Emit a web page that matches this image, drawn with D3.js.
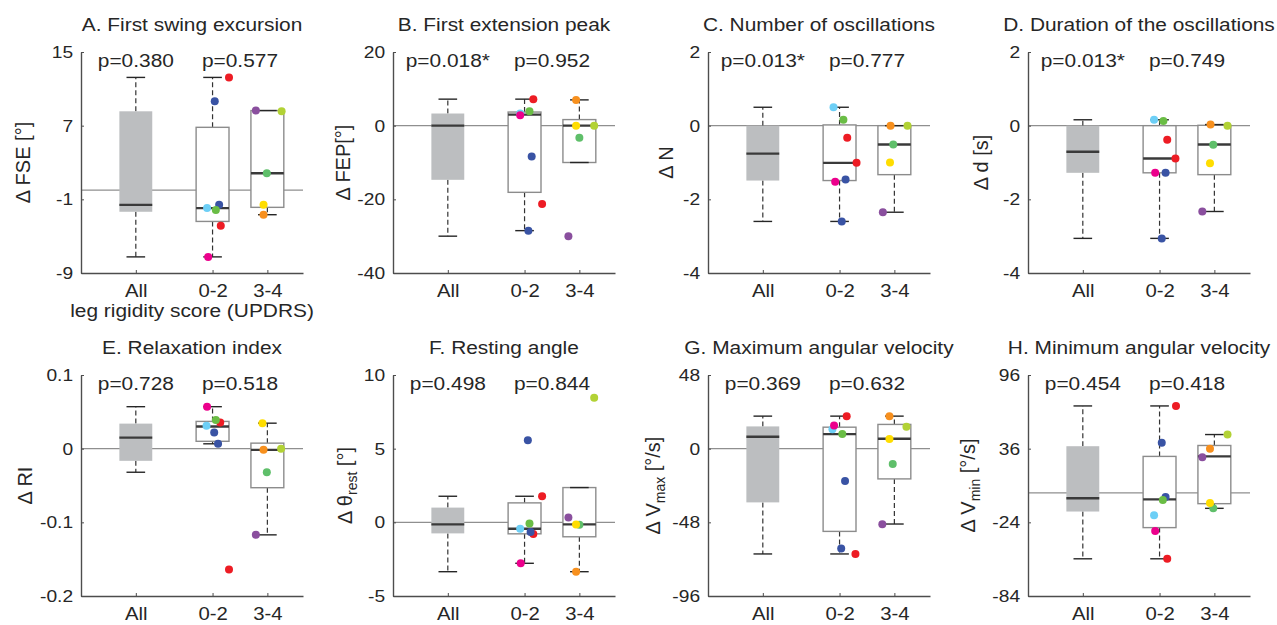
<!DOCTYPE html>
<html>
<head>
<meta charset="utf-8">
<style>
body { margin: 0; background: #fff; }
text { font-family: "Liberation Sans", Arial, sans-serif; fill: #262626; }
</style>
</head>
<body>

<svg id="chart" width="1277" height="625"></svg>

<script src="https://d3js.org/d3.v7.min.js"></script>
<script>

var categories = ["All", "0-2", "3-4"];
var titles = ["A. First swing excursion", "B. First extension peak", "C. Number of oscillations",
    "D. Duration of the oscillations", "E. Relaxation index", "F. Resting angle",
    "G. Maximum angular velocity", "H. Minimum angular velocity"];
var yLabels = ["Δ FSE [°]", "Δ FEP[°]", "Δ N", "Δ d [s]", "Δ RI", "Δ θ_{rest} [°]",
    "Δ V_{max} [°/s]", "Δ V_{min} [°/s]"];
var xLabel = "leg rigidity score (UPDRS)";
var yTicks = [[15, 7, -1, -9], [20, 0, -20, -40], [2, 0, -2, -4], [2, 0, -2, -4],
    [0.1, 0, -0.1, -0.2], [10, 5, 0, -5], [48, 0, -48, -96], [96, 36, -24, -84]];
var pAll = ["p=0.380", "p=0.018*", "p=0.013*", "p=0.013*", "p=0.728", "p=0.498", "p=0.369", "p=0.454"];
var pGroups = ["p=0.577", "p=0.952", "p=0.777", "p=0.749", "p=0.518", "p=0.844", "p=0.632", "p=0.418"];

// box stats: [lower whisker, q1, median, q3, upper whisker]
var boxAll = [[-7.25, -2.35, -1.6, 8.56, 12.24], [-30, -14.7, 0, 3.3, 7.2], [-2.6, -1.49, -0.76, 0, 0.5],
    [-3.06, -1.28, -0.71, 0, 0.16], [-0.032, -0.0165, 0.015, 0.034, 0.057], [-3.35, -0.75, -0.14, 1.0, 1.77],
    [-68.6, -35, 7.8, 14.5, 21.2], [-53.7, -15.2, -4.4, 38, 70.8]];
var boxLow = [[-7.25, -3.4, -1.95, 6.82, 12.24], [-28.5, -18.1, 3.0, 3.7, 7.2], [-2.6, -1.49, -1.01, 0.02, 0.5],
    [-3.06, -1.28, -0.89, 0, 0.16], [0.0066, 0.010, 0.030, 0.037, 0.057], [-2.78, -0.78, -0.44, 1.32, 1.77],
    [-68.6, -53.9, 9.5, 14, 21.2], [-53.7, -28.3, -5.3, 29.7, 70.8]];
var boxHigh = [[-2.67, -1.87, 1.84, 8.64, 8.64], [-10, -10, 0, 1.65, 7.0], [-2.35, -1.33, -0.51, 0, 0],
    [-2.33, -1.33, -0.51, 0.01, 0.03], [-0.117, -0.053, -0.0016, 0.0075, 0.0346], [-3.35, -0.98, -0.14, 2.36, 2.36],
    [-49.1, -19.7, 6.5, 15.8, 21.2], [-12.6, -8.8, 29.7, 38.6, 47.5]];

// subjects with score 0-2: red, red, blue, blue, cyan, green, pink
var colorsLow = ["#ed1c24", "#ed1c24", "#3953a4", "#3953a4", "#6dcff6", "#6abd45", "#ec008c"];
var dotsLow = [[12.24, -3.87, 9.65, -1.6, -1.95, -2.16, -7.25], [7.2, -21.3, -8.4, -28.5, 3.3, 3.9, 2.8],
    [-0.33, -1.01, -1.46, -2.6, 0.5, 0.16, -1.52], [-0.38, -0.89, -1.28, -3.06, 0.16, 0.13, -1.28],
    [0.0355, -0.164, 0.022, 0.0066, 0.031, 0.039, 0.057], [1.77, -0.8, 5.57, -0.66, -0.44, -0.08, -2.78],
    [21.2, -68.6, -21, -65.1, 12.7, 9.5, 15.1], [70.8, -53.7, 40.8, -3.4, -18.3, -5.8, -31]];
var jitterLow = [[0.30, 0.15, 0.04, 0.12, -0.10, 0.06, -0.08], [0.16, 0.32, 0.13, 0.07, -0.08, 0.09, -0.08],
    [0.14, 0.31, 0.11, 0.04, -0.11, 0.07, -0.08], [0.14, 0.29, 0.11, 0.04, -0.10, 0.07, -0.08],
    [0.14, 0.30, 0.03, 0.10, -0.11, 0.06, -0.10], [0.32, 0.16, 0.06, 0.11, -0.08, 0.09, -0.07],
    [0.13, 0.29, 0.10, 0.03, -0.13, 0.05, -0.10], [0.30, 0.14, 0.04, 0.11, -0.10, 0.06, -0.08]];

// subjects with score 3-4: purple, lime, green, yellow, orange
var colorsHigh = ["#8a4f9e", "#b2d235", "#5fbf6a", "#ffdd00", "#f7901e"];
var dotsHigh = [[8.64, 8.56, 1.84, -1.6, -2.67], [-30, 0, -3.3, 0, 7.0], [-2.35, 0, -0.51, -1.0, 0],
    [-2.33, 0, -0.52, -1.02, 0.03], [-0.117, 0, -0.032, 0.0346, -0.0016], [0.33, 8.45, -0.16, -0.14, -3.35],
    [-49.3, 14.3, -10, 6.3, 21.2], [29.1, 47.5, -12.6, -8.2, 35.9]];
var jitterHigh = [[-0.21, 0.26, -0.01, -0.07, -0.07], [-0.20, 0.27, 0, -0.06, -0.06],
    [-0.21, 0.24, -0.02, -0.08, -0.07], [-0.22, 0.24, -0.02, -0.08, -0.07],
    [-0.21, 0.25, -0.01, -0.09, -0.07], [-0.20, 0.27, 0, -0.06, -0.06],
    [-0.22, 0.22, -0.03, -0.09, -0.09], [-0.22, 0.24, -0.02, -0.08, -0.08]];

// layout
var panelLeft = [81, 393, 708, 1028],
    rowTop = [52, 375],
    plotW = 222,
    plotH = 221,
    labelGap = [51, 43, 35, 40, 49, 41, 48, 53],
    catPos = [1, 2.4, 3.4],
    stretch = " scale(1.13,1)";

var svg = d3.select("#chart");

titles.forEach(function(title, i) {
    var g = svg.append("g")
        .attr("transform", "translate(" + panelLeft[i % 4] + "," + rowTop[Math.floor(i / 4)] + ")");

    var ticks = yTicks[i];
    var y = d3.scaleLinear().domain([ticks[ticks.length - 1], ticks[0]]).range([plotH, 0]);
    var x = d3.scaleLinear().domain([0, 4.05]).range([0, plotW]);

    // zero reference line
    g.append("line")
        .attr("x1", 0).attr("x2", plotW)
        .attr("y1", y(0)).attr("y2", y(0))
        .attr("stroke", "#8f8f8f").attr("stroke-width", 1.2);

    // boxes
    var stats = [boxAll[i], boxLow[i], boxHigh[i]];
    var hw = x(0.3) - x(0), cap = x(0.17) - x(0);
    stats.forEach(function(s, j) {
        var cx = x(catPos[j]);
        [[s[3], s[4]], [s[1], s[0]]].forEach(function(w) {
            g.append("line")
                .attr("x1", cx).attr("x2", cx)
                .attr("y1", y(w[0])).attr("y2", y(w[1]))
                .attr("stroke", "#333").attr("stroke-width", 1.2)
                .attr("stroke-dasharray", "5,3");
        });
        g.append("rect")
            .attr("x", cx - hw).attr("y", y(s[3]))
            .attr("width", 2 * hw).attr("height", y(s[1]) - y(s[3]))
            .attr("fill", j === 0 ? "#bcbec0" : "#fff")
            .attr("stroke", j === 0 ? "none" : "#8c8c8c")
            .attr("stroke-width", 1.4);
        [s[0], s[4]].forEach(function(v) {
            g.append("line")
                .attr("x1", cx - cap).attr("x2", cx + cap)
                .attr("y1", y(v)).attr("y2", y(v))
                .attr("stroke", "#262626").attr("stroke-width", 1.4);
        });
        g.append("line")
            .attr("x1", cx - hw).attr("x2", cx + hw)
            .attr("y1", y(s[2])).attr("y2", y(s[2]))
            .attr("stroke", "#3a3a3a").attr("stroke-width", 2.4);
    });

    // subject dots
    var dots = dotsLow[i].map(function(v, k) {
        return {v: v, pos: catPos[1] + jitterLow[i][k], c: colorsLow[k]};
    }).concat(dotsHigh[i].map(function(v, k) {
        return {v: v, pos: catPos[2] + jitterHigh[i][k], c: colorsHigh[k]};
    }));
    g.selectAll("circle")
        .data(dots)
        .enter()
        .append("circle")
        .attr("cx", function(d) { return x(d.pos); })
        .attr("cy", function(d) { return y(d.v); })
        .attr("r", 4)
        .attr("fill", function(d) { return d.c; });

    // axes
    var ya = g.append("g")
        .attr("color", "#4d4d4d")
        .call(d3.axisLeft(y).tickValues(ticks).tickFormat(String)
            .tickSizeInner(-3).tickSizeOuter(0).tickPadding(7));
    ya.select(".domain").attr("stroke-width", 1.4);
    ya.selectAll("text").attr("font-size", 17).attr("transform", stretch);

    var xa = g.append("g")
        .attr("transform", "translate(0," + plotH + ")")
        .attr("color", "#4d4d4d")
        .call(d3.axisBottom(x).tickValues(catPos)
            .tickFormat(function(d, j) { return categories[j]; })
            .tickSizeInner(-3).tickSizeOuter(0).tickPadding(11));
    xa.select(".domain").attr("stroke-width", 1.4);
    xa.selectAll("text").attr("font-size", 18).attr("transform", stretch);

    // texts
    g.append("text")
        .attr("transform", "translate(" + (plotW / 2) + ",-21.5)" + stretch)
        .attr("text-anchor", "middle").attr("font-size", 18.5)
        .text(title);
    g.append("text")
        .attr("transform", "translate(" + x(catPos[0]) + ",14.5)" + stretch)
        .attr("text-anchor", "middle").attr("font-size", 18.5)
        .text(pAll[i]);
    g.append("text")
        .attr("transform", "translate(" + x((catPos[1] + catPos[2]) / 2) + ",14.5)" + stretch)
        .attr("text-anchor", "middle").attr("font-size", 18.5)
        .text(pGroups[i]);

    var yl = g.append("text")
        .attr("transform", "translate(" + (-labelGap[i]) + "," + (plotH / 2) + ") rotate(-90)")
        .attr("text-anchor", "middle").attr("font-size", 20);
    var m = yLabels[i].match(/^(.*)_\{(.*)\}(.*)$/);
    if (m) {
        yl.append("tspan").text(m[1]);
        yl.append("tspan").attr("font-size", 14).attr("dy", 5).text(m[2]);
        yl.append("tspan").attr("dy", -5).text(m[3]);
    } else {
        yl.text(yLabels[i]);
    }

    if (i === 0) {
        g.append("text")
            .attr("transform", "translate(" + (plotW / 2) + "," + (plotH + 43.5) + ")" + stretch)
            .attr("text-anchor", "middle").attr("font-size", 18.5)
            .text(xLabel);
    }
});

</script>
</body>
</html>
